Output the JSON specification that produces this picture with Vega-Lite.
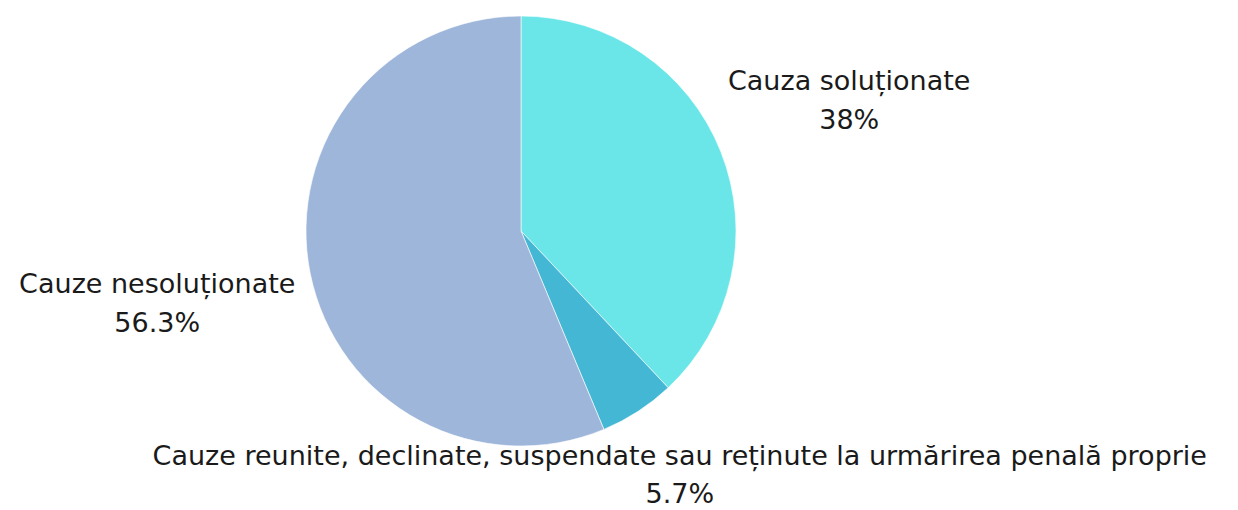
{
  "$schema": "https://vega.github.io/schema/vega-lite/v6.json",
  "width": 1042,
  "height": 462,
  "autosize": {"type": "none"},
  "padding": {"left": 0, "top": 0, "right": 196, "bottom": 48},
  "background": "white",
  "config": {"view": {"stroke": null}},
  "data": {
    "values": [
      {"idx": 1, "category": "Cauza soluționate", "pct": 38},
      {"idx": 2, "category": "Cauze reunite, declinate, suspendate sau reținute la urmărirea penală proprie", "pct": 5.7},
      {"idx": 3, "category": "Cauze nesoluționate", "pct": 56.3}
    ]
  },
  "transform": [
    {"stack": "pct", "groupby": [], "sort": [{"field": "idx", "order": "ascending"}], "as": ["t0", "t1"]},
    {"calculate": "(datum.t0 + datum.t1) / 2", "as": "tmid"},
    {"calculate": "[datum.category, datum.pct + '%']", "as": "label"}
  ],
  "layer": [
    {
      "mark": {"type": "arc", "outerRadius": 215, "stroke": "white", "strokeWidth": 0.6},
      "encoding": {
        "theta": {"field": "t0", "type": "quantitative", "scale": {"domain": [0, 100]}},
        "theta2": {"field": "t1"},
        "color": {
          "field": "category",
          "type": "nominal",
          "legend": null,
          "sort": null,
          "scale": {
            "domain": ["Cauza soluționate", "Cauze reunite, declinate, suspendate sau reținute la urmărirea penală proprie", "Cauze nesoluționate"],
            "range": ["#6BE6E8", "#44B7D5", "#9DB6DA"]
          }
        }
      }
    },
    {
      "transform": [{"filter": "datum.idx == 1"}],
      "mark": {"type": "text", "font": "DejaVu Sans", "fontSize": 27, "color": "#1a1a1a", "lineHeight": 39, "align": "center", "baseline": "middle", "radius": 353, "dy": -19},
      "encoding": {
        "theta": {"field": "tmid", "type": "quantitative", "scale": {"domain": [0, 100]}},
        "text": {"field": "label"}
      }
    },
    {
      "transform": [{"filter": "datum.idx == 2"}],
      "mark": {"type": "text", "font": "DejaVu Sans", "fontSize": 27, "color": "#1a1a1a", "lineHeight": 38, "align": "center", "baseline": "middle", "radius": 292, "dy": -19},
      "encoding": {
        "theta": {"field": "tmid", "type": "quantitative", "scale": {"domain": [0, 100]}},
        "text": {"field": "label"}
      }
    },
    {
      "transform": [{"filter": "datum.idx == 3"}],
      "mark": {"type": "text", "font": "DejaVu Sans", "fontSize": 27, "color": "#1a1a1a", "lineHeight": 39, "align": "center", "baseline": "middle", "radius": 371, "dy": -19},
      "encoding": {
        "theta": {"field": "tmid", "type": "quantitative", "scale": {"domain": [0, 100]}},
        "text": {"field": "label"}
      }
    }
  ]
}
